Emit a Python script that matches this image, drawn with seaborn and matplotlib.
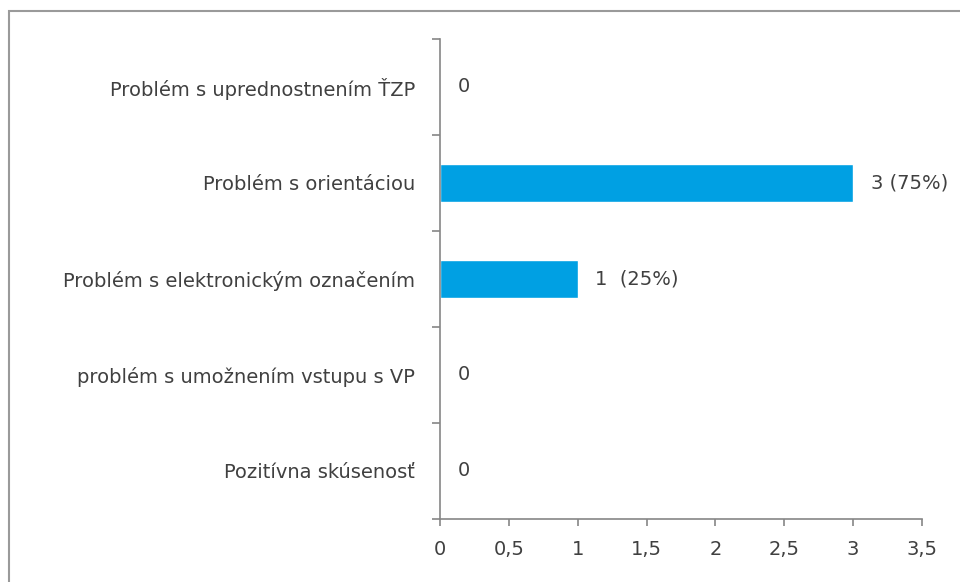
import matplotlib
matplotlib.use("Agg")
import matplotlib.pyplot as plt
import matplotlib.patches as mpatches
from matplotlib.ticker import FuncFormatter, FixedLocator
import seaborn as sns
import pandas as pd

# data
categories = [
    "Problém s uprednostnením ŤZP",
    "Problém s orientáciou",
    "Problém s elektronickým označením",
    "problém s umožnením vstupu s VP",
    "Pozitívna skúsenosť",
]
counts = [0, 3, 1, 0, 0]
value_labels = ["0", "3 (75%)", "1  (25%)", "0", "0"]
x_ticks = [0, 0.5, 1, 1.5, 2, 2.5, 3, 3.5]

df = pd.DataFrame({"kategoria": categories, "pocet": counts})

sns.set_style("white")
plt.rcParams["font.family"] = ["DejaVu Sans"]

text_col = "#404040"
axis_col = "#868686"
fs = 14

fig = plt.figure(figsize=(9.6, 5.82), dpi=100)
ax = fig.add_axes([440 / 960, 1 - 519 / 582, 482 / 960, 480 / 582])

sns.barplot(data=df, y="kategoria", x="pocet", orient="h", color="#00A0E3",
            width=0.39, saturation=1, ax=ax)

ax.set_xlim(0, 3.5)
ax.set_ylim(4.5, -0.5)
ax.set_xlabel("")
ax.set_ylabel("")

for s in ["top", "right"]:
    ax.spines[s].set_visible(False)
for s in ["left", "bottom"]:
    ax.spines[s].set_color(axis_col)
    ax.spines[s].set_linewidth(1.2)

ax.xaxis.set_major_locator(FixedLocator(x_ticks))
ax.xaxis.set_major_formatter(FuncFormatter(lambda v, p: f"{v:g}".replace(".", ",")))
ax.tick_params(axis="x", direction="out", length=5, width=1.2, color=axis_col,
               labelcolor=text_col, labelsize=fs, pad=10, bottom=True)

# category labels on y, ticks only at category boundaries
ax.tick_params(axis="y", which="major", length=0, pad=18, labelcolor=text_col, labelsize=fs)
ax.yaxis.set_minor_locator(FixedLocator([i - 0.5 for i in range(len(categories) + 1)]))
ax.tick_params(axis="y", which="minor", direction="out", length=6, width=1.2,
               color=axis_col, left=True)

for i, (v, lab) in enumerate(zip(counts, value_labels)):
    ax.annotate(lab, (v, i), xytext=(12.5, 0), textcoords="offset points",
                ha="left", va="center", color=text_col, fontsize=fs)

# outer chart border
fig.patches.append(mpatches.Rectangle((9 / 960, -0.1), 1.1, 1 - 11 / 582 + 0.1,
                                      transform=fig.transFigure, fill=False,
                                      edgecolor="#9a9a9a", linewidth=1.5))

fig.savefig("out.png", dpi=100)
